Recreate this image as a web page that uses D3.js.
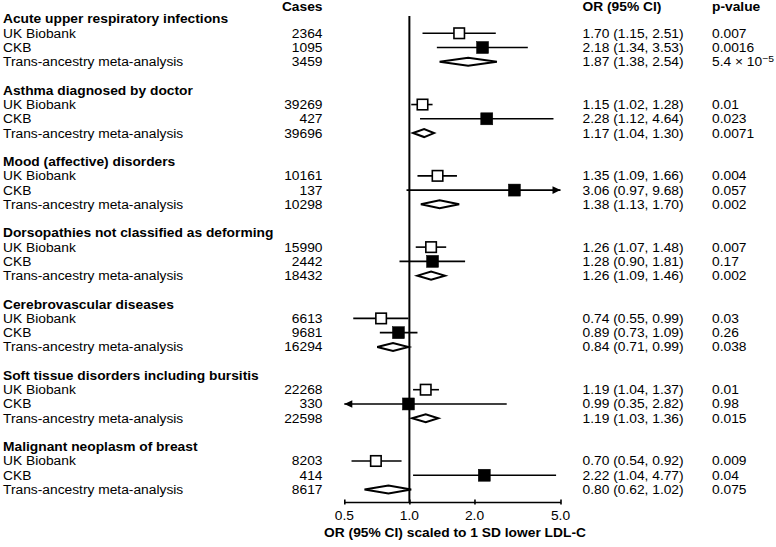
<!DOCTYPE html>
<html><head><meta charset="utf-8">
<script src="https://cdn.jsdelivr.net/npm/d3@7"></script>
<style>
html,body{margin:0;padding:0;background:#fff;}
svg{display:block;}
</style></head>
<body>
<svg id="chart" width="776" height="547"></svg>
<script>
const groups = ["Acute upper respiratory infections","Asthma diagnosed by doctor","Mood (affective) disorders","Dorsopathies not classified as deforming","Cerebrovascular diseases","Soft tissue disorders including bursitis","Malignant neoplasm of breast"];
const cohorts = ["UK Biobank","CKB","Trans-ancestry meta-analysis"];
const cases = [[2364,1095,3459],[39269,427,39696],[10161,137,10298],[15990,2442,18432],[6613,9681,16294],[22268,330,22598],[8203,414,8617]];
const orVals = [[1.70,2.18,1.87],[1.15,2.28,1.17],[1.35,3.06,1.38],[1.26,1.28,1.26],[0.74,0.89,0.84],[1.19,0.99,1.19],[0.70,2.22,0.80]];
const ciLow = [[1.15,1.34,1.38],[1.02,1.12,1.04],[1.09,0.97,1.13],[1.07,0.90,1.09],[0.55,0.73,0.71],[1.04,0.35,1.03],[0.54,1.04,0.62]];
const ciHigh = [[2.51,3.53,2.54],[1.28,4.64,1.30],[1.66,9.68,1.70],[1.48,1.81,1.46],[0.99,1.09,0.99],[1.37,2.82,1.36],[0.92,4.77,1.02]];
const pValues = [["0.007","0.0016","5.4e-5"],["0.01","0.023","0.0071"],["0.004","0.057","0.002"],["0.007","0.17","0.002"],["0.03","0.26","0.038"],["0.01","0.98","0.015"],["0.009","0.04","0.075"]];
const tickValues = [0.5,1.0,2.0,5.0];
const axisTitle = "OR (95% CI) scaled to 1 SD lower LDL-C";

const svg = d3.select("#chart");
const FONT = "'Liberation Sans', Arial, sans-serif";
const FS = 13.8, SY = 0.9;
const x = d3.scaleLog().domain([0.5,5]).range([344.3,560.5]);
const y = d3.scaleLinear().domain([0,33]).range([19,489.5]);
const fmt2 = d3.format(".2f");

function txt(px, py, s, opts={}) {
  const t = svg.append("text")
    .attr("transform", `translate(${px},${py}) scale(1,${SY})`)
    .attr("font-family", FONT)
    .attr("font-size", opts.size || FS)
    .attr("font-weight", opts.bold ? "bold" : "normal")
    .attr("text-anchor", opts.anchor || "start")
    .attr("dy", "0.36em")
    .attr("fill", "#000");
  if (s !== null) t.text(s);
  return t;
}

// headers
txt(322.5, 7, "Cases", {bold:true, anchor:"end"});
txt(582.5, 7, "OR (95% CI)", {bold:true});
txt(712, 7, "p-value", {bold:true});

// reference line at OR = 1
svg.append("line").attr("x1", x(1)).attr("x2", x(1)).attr("y1", 16).attr("y2", 502)
  .attr("stroke", "#000").attr("stroke-width", 2);

groups.forEach((g, gi) => {
  const base = gi*5;
  txt(3, y(base), g, {bold:true});
  cohorts.forEach((c, ci) => {
    const yy = y(base + 1 + ci);
    txt(3, yy, c);
    txt(322.5, yy, String(cases[gi][ci]), {anchor:"end"});
    txt(582.5, yy, `${fmt2(orVals[gi][ci])} (${fmt2(ciLow[gi][ci])}, ${fmt2(ciHigh[gi][ci])})`);
    const pv = pValues[gi][ci];
    if (pv.includes("e")) {
      const [m, e] = pv.split("e");
      const t = txt(712, yy, null);
      t.append("tspan").text(m + "  \u00d7 10");
      t.append("tspan").attr("dy", "-0.45em").attr("font-size", FS*0.75).text("\u2212" + e.replace("-",""));
    } else {
      txt(712, yy, pv);
    }

    const lo = ciLow[gi][ci], hi = ciHigh[gi][ci], est = orVals[gi][ci];
    const [dmin, dmax] = x.domain();
    if (ci < 2) {
      const x1 = x(Math.max(lo, dmin)), x2 = x(Math.min(hi, dmax));
      svg.append("line").attr("x1", x1).attr("x2", x2).attr("y1", yy).attr("y2", yy)
        .attr("stroke", "#000").attr("stroke-width", 1.6);
      if (hi > dmax) {
        svg.append("path").attr("d", `M${x2},${yy} l-8,-3.8 l0,7.6 Z`).attr("fill", "#000");
      }
      if (lo < dmin) {
        svg.append("path").attr("d", `M${x1},${yy} l8,-3.8 l0,7.6 Z`).attr("fill", "#000");
      }
      const s = ci === 0 ? 10.5 : 12;
      svg.append("rect").attr("x", x(est) - s/2).attr("y", yy - s/2).attr("width", s).attr("height", s)
        .attr("fill", ci === 0 ? "#fff" : "#000").attr("stroke", "#000").attr("stroke-width", ci === 0 ? 1.6 : 0.5);
    } else {
      const h = 4;
      svg.append("path")
        .attr("d", `M${x(lo)},${yy} L${x(est)},${yy-h} L${x(hi)},${yy} L${x(est)},${yy+h} Z`)
        .attr("fill", "#fff").attr("stroke", "#000").attr("stroke-width", 2).attr("stroke-linejoin", "miter");
    }
  });
});

// axis
const axisG = svg.append("g").attr("transform", "translate(0,502)")
  .call(d3.axisBottom(x).tickValues(tickValues).tickFormat(d3.format(".1f")).tickSizeOuter(0).tickSizeInner(2.5).tickPadding(0));
axisG.select(".domain").attr("stroke", "#000").attr("stroke-width", 1.6);
axisG.selectAll(".tick line").attr("y1", -2.5).attr("stroke", "#000").attr("stroke-width", 1.6);
axisG.selectAll(".tick text").remove();
tickValues.forEach(v => txt(x(v), 516, d3.format(".1f")(v), {anchor:"middle"}));
txt(455, 532.5, axisTitle, {bold:true, anchor:"middle"});
</script>
</body></html>
